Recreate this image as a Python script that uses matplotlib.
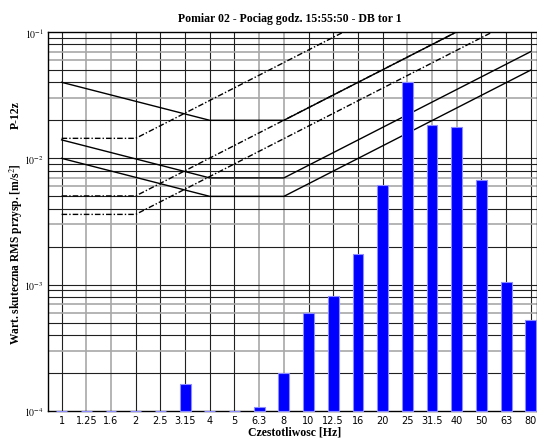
import numpy as np
import matplotlib
matplotlib.use("Agg")
import matplotlib.pyplot as plt

# --- data -------------------------------------------------------------------
bands = ["1", "1.25", "1.6", "2", "2.5", "3.15", "4", "5", "6.3", "8",
         "10", "12.5", "16", "20", "25", "31.5", "40", "50", "63", "80"]
# RMS acceleration per 1/3-octave band [m/s^2] (0 = no value)
rms = [0, 0, 0, 0, 0, 1.64e-4, 0, 0, 1.08e-4, 2.0e-4,
       6.0e-4, 8.2e-4, 1.75e-3, 6.2e-3, 4.0e-2, 1.84e-2, 1.78e-2, 6.7e-3, 1.05e-3, 5.3e-4]

# limit curves: band index of vertices, value at vertex
solid_idx = [0, 6, 9, 19]
solid_curves = [
    [0.04, 0.02, 0.02, 0.2],
    [0.014, 0.007, 0.007, 0.07],
    [0.01, 0.005, 0.005, 0.05],
]
dash_idx = [0, 3, 19]
dash_curves = [
    [0.0144, 0.0144, 0.573],
    [0.00504, 0.00504, 0.2],
    [0.0036, 0.0036, 0.143],
]

# --- figure -----------------------------------------------------------------
plt.rcParams["mathtext.fontset"] = "stix"
fig = plt.figure(figsize=(5.37, 4.39), dpi=100, facecolor="white")
ax = fig.add_axes([0.0894, 0.0615, 0.9106, 0.8633])

x = np.arange(len(bands))
ymin = 1e-4
ax.set_yscale("log")
ax.set_ylim(ymin, 1e-1)
ax.set_xlim(-0.55, 19.25)

# grid (grey/black mix like the source rendering)
GREY, DARK = "#a8a8a8", "#202020"
vgrey = {1, 2, 8, 9, 14, 15, 16}
for i in x:
    c = GREY if i in vgrey else DARK
    ax.axvline(i, color=c, lw=1.2 if c == GREY else 0.8, zorder=1)
for dec in [1e-4, 1e-3, 1e-2]:
    for m in range(1, 10):
        if dec == 1e-4 and m == 1:
            continue
        c = GREY if m in (3, 6, 7) else DARK
        ax.axhline(dec * m, color=c, lw=1.2 if c == GREY else 0.8, zorder=1)

# curves
for vals in solid_curves:
    ax.plot(solid_idx, vals, color="black", lw=1.0, zorder=2)
for vals in dash_curves:
    ax.plot(dash_idx, vals, color="black", lw=1.0,
            linestyle=(0, (4, 1.5, 1, 1.5)), zorder=2)

# bars
heights = [max(v - ymin, 0) for v in rms]
ax.bar(x, heights, bottom=ymin, width=0.44, color="#0000ff",
       edgecolor="#8c8cff", linewidth=0.8, zorder=5, clip_on=False)

# axes text
ax.set_xticks(x)
ax.set_xticklabels(bands, fontsize=7, family="DejaVu Sans")
ax.set_yticks([1e-4, 1e-3, 1e-2, 1e-1])
ax.set_yticklabels([r"$10^{-4}$", r"$10^{-3}$", r"$10^{-2}$", r"$10^{-1}$"], fontsize=7)
ax.minorticks_off()
ax.tick_params(length=0, pad=3)

for s in ax.spines.values():
    s.set_color("black")
    s.set_linewidth(1.0)
    s.set_zorder(4)

fig.text(0.54, 0.957, "Pomiar 02 - Pociag godz. 15:55:50 - DB tor 1",
         ha="center", va="center", fontsize=8.5, fontweight="bold", family="Liberation Serif")
fig.text(0.548, 0.0137, "Czestotliwosc [Hz]", ha="center", va="center",
         fontsize=8.5, fontweight="bold", family="Liberation Serif")
fig.text(0.03, 0.421, "Wart. skuteczna RMS przysp. [m/s$^2$]", rotation=90,
         ha="center", va="center", fontsize=8.3, fontweight="bold", family="Liberation Serif")
fig.text(0.03, 0.738, "P-12z", rotation=90, ha="center", va="center",
         fontsize=8.5, fontweight="bold", family="Liberation Serif")

fig.savefig("out.png", dpi=100, facecolor="white")
